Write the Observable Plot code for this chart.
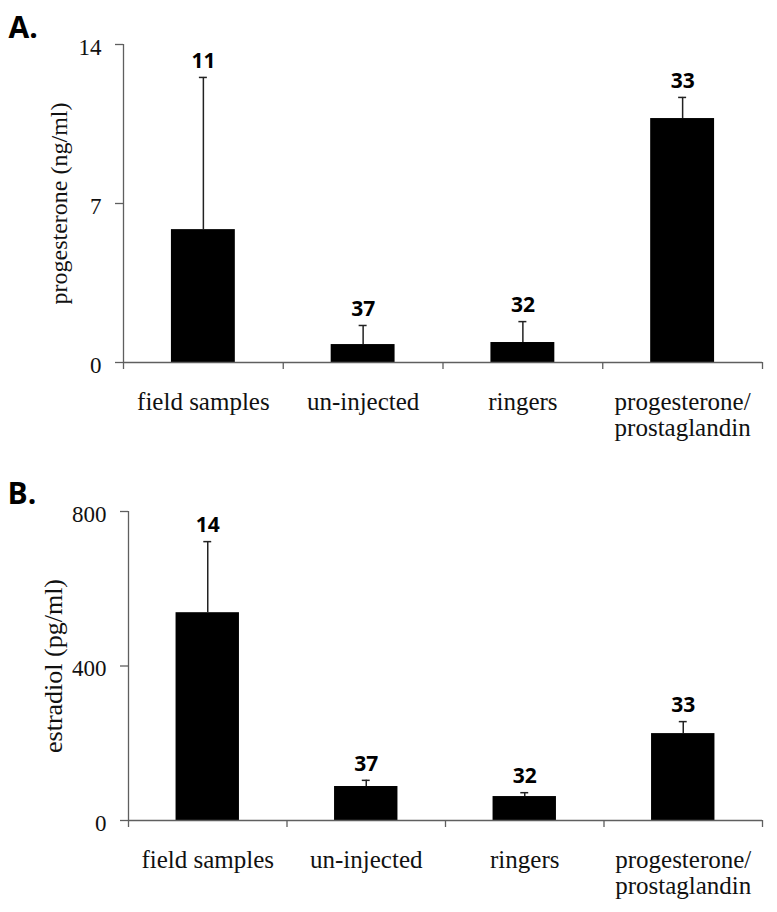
<!DOCTYPE html>
<html>
<head>
<meta charset="utf-8">
<script src="https://cdn.jsdelivr.net/npm/d3@7"></script>
<script src="https://cdn.jsdelivr.net/npm/@observablehq/plot@0.6"></script>
<style>
  html, body { margin: 0; padding: 0; background: #fff; }
  #wrap { position: relative; width: 777px; height: 912px; }
  #wrap > div { position: absolute; left: 0; }
  #panelA { top: 0; }
  #panelB { top: 450px; }
  svg { display: block; }
</style>
</head>
<body>
<div id="wrap"><div id="panelA"></div><div id="panelB"></div></div>
<script>
// ---- data ----
const categories = ["field samples", "un-injected", "ringers", "progesterone/\nprostaglandin"];

const progesteroneMean = [5.85, 0.79, 0.88, 10.74];
const progesteroneSE   = [6.70, 0.84, 0.92, 0.93];
const progesteroneN    = [11, 37, 32, 33];
const progesteroneTicks = [0, 7, 14];

const estradiolMean = [538, 88, 62, 225];
const estradiolSE   = [184, 16, 10, 31];
const estradiolN    = [14, 37, 32, 33];
const estradiolTicks = [0, 400, 800];

const AXIS = "#5f5f5f";

function panel({mean, se, n, ticks, yLabel, letter, marginLeft, marginTop, marginBottom, height, labelDx, labelSize, letterDx, letterDy}) {
  const data = categories.map((c, i) => ({i, c, mean: mean[i], se: se[i], n: n[i]}));
  return Plot.plot({
    width: 777,
    height,
    marginLeft,
    marginRight: 15,
    marginTop,
    marginBottom,
    style: {background: "#fff", color: "#000", fontFamily: "'Liberation Serif', 'Times New Roman', serif"},
    x: {domain: [0, categories.length]},
    y: {domain: [ticks[0], ticks[ticks.length - 1]]},
    marks: [
      Plot.rectY(data, {x1: d => d.i + 0.3, x2: d => d.i + 0.7, y: "mean", fill: "#000"}),
      Plot.ruleX(data, {x: d => d.i + 0.5, y1: "mean", y2: d => d.mean + d.se, stroke: "#222", strokeWidth: 1.5}),
      Plot.ruleY(data, {y: d => d.mean + d.se, x1: d => d.i + 0.475, x2: d => d.i + 0.525, stroke: "#222", strokeWidth: 1.5}),
      Plot.text(data, {x: d => d.i + 0.5, y: d => d.mean + d.se, text: d => String(d.n), dy: -16,
        fontFamily: "'Open Sans', sans-serif", fontWeight: "bold", fontSize: 21, fill: "#000"}),
      // axis lines
      Plot.ruleY([ticks[0]], {stroke: AXIS, strokeWidth: 1.3}),
      Plot.ruleX([0], {stroke: AXIS, strokeWidth: 1.3}),
      // y ticks + labels
      Plot.axisY({ticks, tickSize: 8, tickFormat: () => "", stroke: AXIS, strokeWidth: 1.3, label: null}),
      Plot.axisY({ticks, tickSize: 0, tickPadding: 22, dy: 3, fontSize: 23, fill: "#111", label: null}),
      // x boundary ticks + category labels
      Plot.axisX({ticks: d3.range(categories.length + 1), tickSize: 7, tickFormat: () => "", stroke: AXIS, strokeWidth: 1.3, label: null}),
      Plot.axisX({ticks: categories.map((c, i) => i + 0.5), tickSize: 0, tickPadding: 29, lineHeight: 1.05,
        tickFormat: v => categories[Math.floor(v)], fontSize: 25, fill: "#111", label: null}),
      // y label
      Plot.text([yLabel], {frameAnchor: "left", rotate: -90, dx: labelDx, fontSize: labelSize, fill: "#111", textAnchor: "middle"}),
      // panel letter
      Plot.text([letter], {frameAnchor: "top-left", dx: letterDx, dy: letterDy, textAnchor: "start", lineAnchor: "bottom",
        fontFamily: "'Open Sans', sans-serif", fontWeight: "bold", fontSize: 30, fill: "#000"})
    ]
  });
}

document.getElementById("panelA").appendChild(panel({
  mean: progesteroneMean, se: progesteroneSE, n: progesteroneN, ticks: progesteroneTicks,
  yLabel: "progesterone (ng/ml)", letter: "A.",
  marginLeft: 123, marginTop: 44, marginBottom: 88, height: 450,
  labelDx: -64, labelSize: 24, letterDx: -115, letterDy: -7
}));

document.getElementById("panelB").appendChild(panel({
  mean: estradiolMean, se: estradiolSE, n: estradiolN, ticks: estradiolTicks,
  yLabel: "estradiol (pg/ml)", letter: "B.",
  marginLeft: 128, marginTop: 61, marginBottom: 92, height: 462,
  labelDx: -75, labelSize: 26, letterDx: -121, letterDy: -8
}));
</script>
</body>
</html>
